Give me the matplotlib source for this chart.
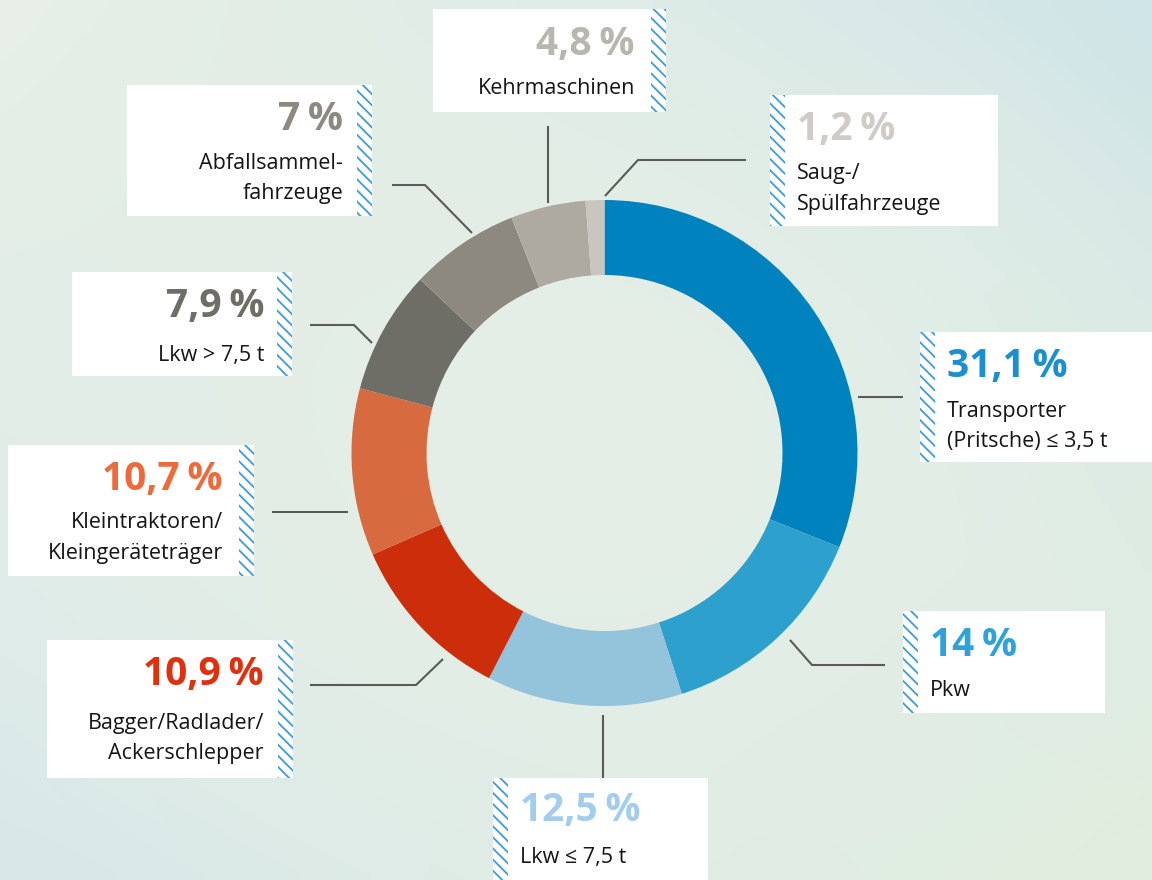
import numpy as np
import matplotlib
matplotlib.use("Agg")
import matplotlib.pyplot as plt
from matplotlib.patches import Rectangle

# ---- data ----
categories = ["Transporter\n(Pritsche) ≤ 3,5 t", "Pkw", "Lkw ≤ 7,5 t",
              "Bagger/Radlader/\nAckerschlepper", "Kleintraktoren/\nKleingeräteträger",
              "Lkw > 7,5 t", "Abfallsammel-\nfahrzeuge", "Kehrmaschinen",
              "Saug-/\nSpülfahrzeuge"]
values = [31.1, 14, 12.5, 10.9, 10.7, 7.9, 7, 4.8, 1.2]
value_labels = ["31,1\u2009%", "14\u2009%", "12,5\u2009%", "10,9\u2009%", "10,7\u2009%",
                "7,9\u2009%", "7\u2009%", "4,8\u2009%", "1,2\u2009%"]

wedge_colors = ["#0082BF", "#2DA0CE", "#94C3DC", "#CC2D0A", "#D86A40",
                "#6E6D66", "#8D8880", "#AEAAA2", "#C9C5BF"]
pct_colors = ["#1A8FD2", "#2EA2DC", "#A3CDEE", "#E0300E", "#EE6A3A",
              "#6E6D66", "#8D8880", "#B9B5AF", "#D0CBC6"]

W, H = 1152, 880
plt.rcParams['font.family'] = ['Open Sans', 'DejaVu Sans']
plt.rcParams['hatch.linewidth'] = 1.3

fig = plt.figure(figsize=(W / 100, H / 100), dpi=100)
ax = fig.add_axes([0, 0, 1, 1])
ax.set_aspect('equal')

def Y(y):
    return H - y

# ---- background gradient ----
ny, nx = 88, 116
gy, gx = np.mgrid[0:1:ny * 1j, 0:1:nx * 1j]
c_tl = np.array([0xE8, 0xF0, 0xE6]) / 255
c_tr = np.array([0xD0, 0xE5, 0xE8]) / 255
c_bl = np.array([0xD8, 0xE8, 0xEA]) / 255
c_br = np.array([0xE2, 0xEE, 0xDE]) / 255
c_mid = np.array([0xE6, 0xEF, 0xE7]) / 255
img = (c_tl * ((1 - gx) * (1 - gy))[..., None] + c_tr * (gx * (1 - gy))[..., None]
       + c_bl * ((1 - gx) * gy)[..., None] + c_br * (gx * gy)[..., None])
d = np.sqrt((gx - 0.5) ** 2 + (gy - 0.5) ** 2)
wmid = np.clip(1 - d / 0.62, 0, 1)[..., None] ** 0.7
img = img * (1 - wmid) + c_mid * wmid
ax.imshow(img, extent=[0, W, 0, H], origin='upper', zorder=0, interpolation='bicubic')

# ---- donut ----
cx, cy, R, r = 604.5, Y(453), 253, 178
ax.pie(values, colors=wedge_colors, startangle=90, counterclock=False,
       center=(cx, cy), radius=R, frame=True,
       wedgeprops=dict(width=R - r, linewidth=0))
ax.set_xlim(0, W)
ax.set_ylim(0, H)
ax.axis('off')

# ---- label boxes ----
boxes = [
    dict(x0=920, x1=1152, y0=332, y1=462, side='left', tx=947, ha='left', yp=366, yl=[411, 441]),
    dict(x0=903, x1=1105, y0=611, y1=713, side='left', tx=930, ha='left', yp=645, yl=[690]),
    dict(x0=493, x1=708, y0=778, y1=885, side='left', tx=520, ha='left', yp=810, yl=[857]),
    dict(x0=47, x1=293, y0=640, y1=778, side='right', tx=264, ha='right', yp=674, yl=[723, 753]),
    dict(x0=8, x1=254, y0=445, y1=576, side='right', tx=223, ha='right', yp=479, yl=[523, 553]),
    dict(x0=72, x1=292, y0=272, y1=376, side='right', tx=264, ha='right', yp=306, yl=[355]),
    dict(x0=127, x1=372, y0=85, y1=216, side='right', tx=343, ha='right', yp=119, yl=[163, 193]),
    dict(x0=433, x1=666, y0=9, y1=112, side='right', tx=635, ha='right', yp=44, yl=[88]),
    dict(x0=770, x1=998, y0=95, y1=226, side='left', tx=797, ha='left', yp=129, yl=[173, 204]),
]
hw = 15
for i, b in enumerate(boxes):
    x0, x1, y0, y1 = b['x0'], b['x1'], b['y0'], b['y1']
    ax.add_patch(Rectangle((x0, Y(y1)), x1 - x0, y1 - y0, facecolor='white',
                           edgecolor='none', zorder=3))
    hx = x0 if b['side'] == 'left' else x1 - hw
    ax.add_patch(Rectangle((hx, Y(y1)), hw, y1 - y0, facecolor='white',
                           edgecolor='#3C9BDA', hatch='\\\\\\', linewidth=0, zorder=4))
    ax.text(b['tx'], Y(b['yp']), value_labels[i], ha=b['ha'], va='center',
            fontsize=28, fontweight='bold', color=pct_colors[i], zorder=5)
    lines = categories[i].split('\n')
    for ln, yy in zip(lines, b['yl']):
        ax.text(b['tx'], Y(yy), ln, ha=b['ha'], va='center', fontsize=15.5,
                color='#151515', zorder=5)

# ---- leader lines ----
leaders = [
    [(858, 397), (903, 397)],
    [(790, 640), (812, 665), (885, 665)],
    [(603, 715), (603, 785)],
    [(443, 659), (416, 685), (310, 685)],
    [(348, 512), (272, 512)],
    [(372, 343), (354, 325), (310, 325)],
    [(472, 233), (425, 185), (392, 185)],
    [(548, 203), (548, 126)],
    [(605, 196), (638, 160), (746, 160)],
]
for pts in leaders:
    xs = [p[0] for p in pts]
    ys = [Y(p[1]) for p in pts]
    ax.plot(xs, ys, color='#5A5A58', lw=1.5, zorder=2, solid_capstyle='butt')

fig.savefig('out.png', dpi=100)
